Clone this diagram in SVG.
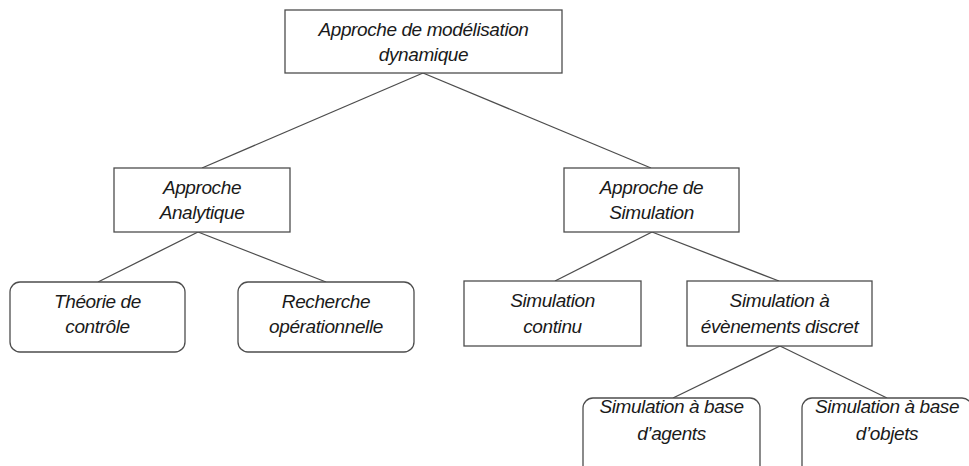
<svg xmlns="http://www.w3.org/2000/svg" width="969" height="466" viewBox="0 0 969 466">
<style>
.box{fill:#fff;stroke:#4d4d4d;stroke-width:1.3}
.t{font-family:"Liberation Sans",Arial,sans-serif;font-style:italic;font-size:19px;fill:#1a1a1a;text-anchor:middle;letter-spacing:-0.4px}
.c line{stroke:#4d4d4d;stroke-width:1.3}
</style>
<rect width="969" height="466" fill="#fff"/>
<g class="c" id="connectors">
<line x1="423" y1="73" x2="202" y2="168"/>
<line x1="423" y1="73" x2="651" y2="168"/>
<line x1="198" y1="232" x2="98" y2="282"/>
<line x1="198" y1="232" x2="326" y2="282"/>
<line x1="652" y1="232" x2="555" y2="281"/>
<line x1="652" y1="232" x2="779" y2="281"/>
<line x1="780" y1="346" x2="673" y2="398"/>
<line x1="780" y1="346" x2="887" y2="398"/>
</g>
<g id="n_top"><rect class="box" x="285" y="10" width="277" height="63"/><text class="t" x="423.5" y="36">Approche de modélisation</text><text class="t" x="423.5" y="61">dynamique</text></g>
<g id="n_analytique"><rect class="box" x="114" y="168" width="176" height="64"/><text class="t" x="202" y="194">Approche</text><text class="t" x="202" y="219">Analytique</text></g>
<g id="n_simulation"><rect class="box" x="564" y="168" width="175" height="64"/><text class="t" x="651.5" y="194">Approche de</text><text class="t" x="651.5" y="219">Simulation</text></g>
<g id="n_controle"><rect class="box" x="10" y="282" width="175" height="70" rx="10"/><text class="t" x="97.5" y="308">Théorie de</text><text class="t" x="97.5" y="333">contrôle</text></g>
<g id="n_recherche"><rect class="box" x="238" y="282" width="176" height="70" rx="10"/><text class="t" x="326" y="308">Recherche</text><text class="t" x="326" y="333">opérationnelle</text></g>
<g id="n_continu"><rect class="box" x="464" y="281" width="177" height="65"/><text class="t" x="552.5" y="307">Simulation</text><text class="t" x="552.5" y="333">continu</text></g>
<g id="n_discret"><rect class="box" x="687" y="281" width="185" height="65"/><text class="t" x="779.5" y="307">Simulation à</text><text class="t" x="779.5" y="333">évènements discret</text></g>
<g id="n_agents"><rect class="box" x="583" y="398" width="177" height="80" rx="10"/><text class="t" x="671.5" y="413">Simulation à base</text><text class="t" x="671.5" y="440">d’agents</text></g>
<g id="n_objets"><rect class="box" x="802" y="398" width="170" height="80" rx="10"/><text class="t" x="887" y="413">Simulation à base</text><text class="t" x="887" y="440">d’objets</text></g>
</svg>
